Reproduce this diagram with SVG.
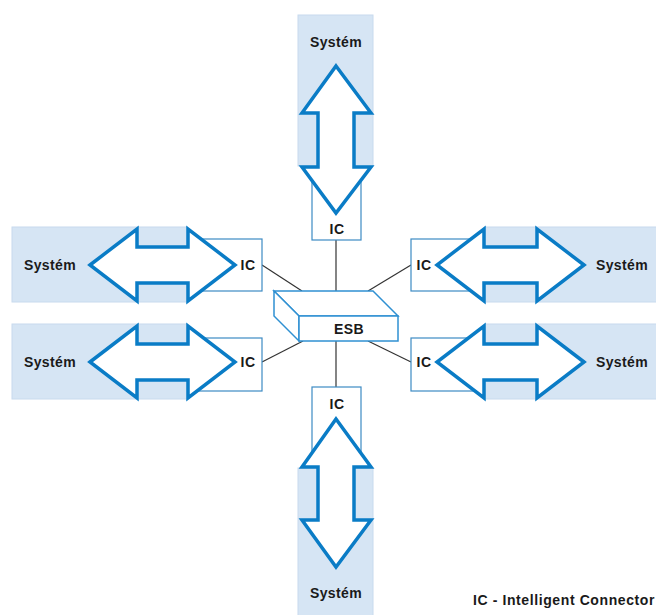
<svg xmlns="http://www.w3.org/2000/svg" width="656" height="615" viewBox="0 0 656 615">
  <style>
    .sys { fill: #d6e5f4; stroke: #c8daee; stroke-width: 1; }
    .ic { fill: #ffffff; stroke: #3d8bc4; stroke-width: 1.2; }
    .arrow { fill: #ffffff; stroke: #0a7cc6; stroke-width: 3.5; stroke-linejoin: miter; }
    .esb { fill: #ffffff; stroke: #2f90d2; stroke-width: 1.5; stroke-linejoin: miter; }
    .link { stroke: #333333; stroke-width: 1.2; fill: none; }
    text { font-family: "Liberation Sans", Arial, sans-serif; font-weight: bold; font-size: 14px; fill: #1a1a1a; letter-spacing: 0.4px; }
    .c { text-anchor: middle; dominant-baseline: central; }
    .legend { letter-spacing: 0.6px; }
  </style>

  <rect width="656" height="615" fill="#ffffff"/>

  <g id="connectors">
    <line class="link" x1="336" y1="240" x2="336" y2="291"/>
    <line class="link" x1="336" y1="341" x2="336" y2="387"/>
    <line class="link" x1="262" y1="265" x2="302" y2="291"/>
    <line class="link" x1="411" y1="265" x2="368" y2="291"/>
    <line class="link" x1="262" y1="362" x2="303" y2="341"/>
    <line class="link" x1="411" y1="362" x2="368" y2="341"/>
  </g>

  <!-- top system -->
  <g id="system-top">
    <rect class="ic" x="312" y="150" width="49" height="90"/>
    <rect class="sys" x="298" y="15" width="75" height="151"/>
    <path class="arrow" d="M336,66 L371,113 L354,113 L354,167 L371,167 L336,213 L302,167 L318,167 L318,113 L302,113 Z"/>
    <text class="c" x="336" y="42">Systém</text>
    <text class="c" x="337" y="229">IC</text>
  </g>

  <!-- bottom system -->
  <g id="system-bottom">
    <rect class="ic" x="312" y="387" width="49" height="90"/>
    <rect class="sys" x="298" y="468" width="75" height="160"/>
    <path class="arrow" d="M336,419 L371,467 L354,467 L354,520 L371,520 L336,567 L302,520 L318,520 L318,467 L302,467 Z"/>
    <text class="c" x="336" y="593">Systém</text>
    <text class="c" x="337" y="404">IC</text>
  </g>

  <!-- left systems -->
  <g id="system-left-1">
    <rect class="ic" x="187" y="239" width="75" height="52"/>
    <rect class="sys" x="12" y="227" width="175" height="75"/>
    <path class="arrow" d="M90,265 L137,229 L137,247 L188,247 L188,229 L235,265 L188,301 L188,283 L137,283 L137,301 Z"/>
    <text class="c" x="50" y="265">Systém</text>
    <text class="c" x="248" y="265">IC</text>
  </g>
  <g id="system-left-2">
    <rect class="ic" x="187" y="338" width="75" height="53"/>
    <rect class="sys" x="12" y="324" width="175" height="75"/>
    <path class="arrow" d="M90,362 L137,326 L137,344 L188,344 L188,326 L235,362 L188,398 L188,380 L137,380 L137,398 Z"/>
    <text class="c" x="50" y="362">Systém</text>
    <text class="c" x="248" y="362">IC</text>
  </g>

  <!-- right systems -->
  <g id="system-right-1">
    <rect class="ic" x="411" y="239" width="75" height="52"/>
    <rect class="sys" x="485" y="227" width="180" height="75"/>
    <path class="arrow" d="M584,265 L537,229 L537,247 L484,247 L484,229 L437,265 L484,301 L484,283 L537,283 L537,301 Z"/>
    <text class="c" x="622" y="265">Systém</text>
    <text class="c" x="424" y="265">IC</text>
  </g>
  <g id="system-right-2">
    <rect class="ic" x="411" y="338" width="75" height="53"/>
    <rect class="sys" x="485" y="324" width="180" height="75"/>
    <path class="arrow" d="M584,362 L537,326 L537,344 L484,344 L484,326 L437,362 L484,398 L484,380 L537,380 L537,398 Z"/>
    <text class="c" x="622" y="362">Systém</text>
    <text class="c" x="424" y="362">IC</text>
  </g>

  <!-- enterprise service bus box -->
  <g id="esb">
    <polygon class="esb" points="274,291 373,291 398,316 299,316"/>
    <polygon class="esb" points="274,291 299,316 299,341 274,316"/>
    <rect class="esb" x="299" y="316" width="99" height="25"/>
    <text class="c" x="349" y="329">ESB</text>
  </g>

  <g id="legend">
    <text class="legend" x="473" y="605">IC - Intelligent Connector</text>
  </g>
</svg>
